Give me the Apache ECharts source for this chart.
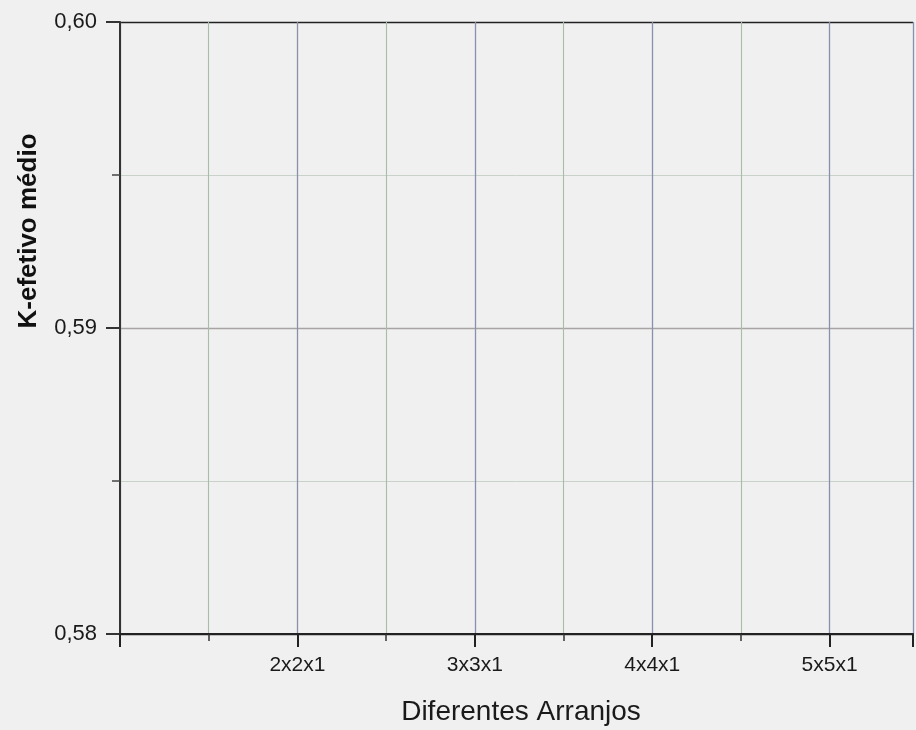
<!DOCTYPE html>
<html><head><meta charset="utf-8">
<script src="https://cdn.jsdelivr.net/npm/echarts@6/dist/echarts.min.js"></script>
<style>html,body{margin:0;padding:0;background:#f0f0f0}#c{width:916px;height:730px}</style>
</head><body><div id="c"></div>
<script>
// Data (the reference plot shows only an empty frame; no data points are visible)
const categories = ['2x2x1', '3x3x1', '4x4x1', '5x5x1'];
const categoryPositions = [2, 3, 4, 5];
const yTickLabels = ['0,58', '0,59', '0,60'];
const yTickValues = [0.58, 0.59, 0.60];
const seriesValues = [];

const chart = echarts.init(document.getElementById('c'), null, {renderer: 'canvas'});
const font = '"Liberation Sans", Arial, sans-serif';
chart.setOption({
  backgroundColor: '#f0f0f0',
  animation: false,
  grid: {left: 120, top: 22, bottom: 96, right: 0, containLabel: false},
  xAxis: {
    type: 'value', min: 1, max: 5.47, interval: 1,
    axisLine: {show: true, lineStyle: {color: '#222', width: 2}},
    axisTick: {show: true, length: 13, lineStyle: {color: '#222', width: 2}},
    minorTick: {show: true, splitNumber: 2, length: 7, lineStyle: {color: '#333', width: 1.5}},
    axisLabel: {
      margin: 21, color: '#1a1a1a', fontSize: 21, fontFamily: font,
      formatter: v => { const i = categoryPositions.indexOf(Math.round(v * 100) / 100); return i >= 0 ? categories[i] : ''; }
    },
    splitLine: {show: true, lineStyle: {color: '#8890ad', width: 1.3}},
    minorSplitLine: {show: true, lineStyle: {color: '#a6bda6', width: 1.1}}
  },
  yAxis: {
    type: 'value', min: 0.58, max: 0.60, interval: 0.01,
    axisLine: {show: true, lineStyle: {color: '#333', width: 2}},
    axisTick: {show: true, length: 14, lineStyle: {color: '#333', width: 2}},
    minorTick: {show: true, splitNumber: 2, length: 8, lineStyle: {color: '#444', width: 1.5}},
    axisLabel: {
      margin: 23, color: '#1a1a1a', fontSize: 22, fontFamily: font,
      formatter: v => { const i = yTickValues.findIndex(t => Math.abs(t - v) < 1e-9); return i >= 0 ? yTickLabels[i] : ''; }
    },
    splitLine: {show: true, lineStyle: {color: ['#222', '#a8a4a4', '#222'], width: 1.3}},
    minorSplitLine: {show: true, lineStyle: {color: '#c9d2c9', width: 1}}
  },
  graphic: [
    {type: 'text', x: 521, y: 712, style: {text: 'Diferentes Arranjos', font: '28px ' + font, fill: '#1a1a1a', textAlign: 'center', textVerticalAlign: 'middle'}},
    {type: 'text', x: 29, y: 231, rotation: Math.PI / 2, style: {text: 'K-efetivo médio', font: 'bold 26px ' + font, fill: '#111', textAlign: 'center', textVerticalAlign: 'middle'}}
  ],
  series: [{type: 'line', data: seriesValues, symbol: 'none'}]
});
</script></body></html>
